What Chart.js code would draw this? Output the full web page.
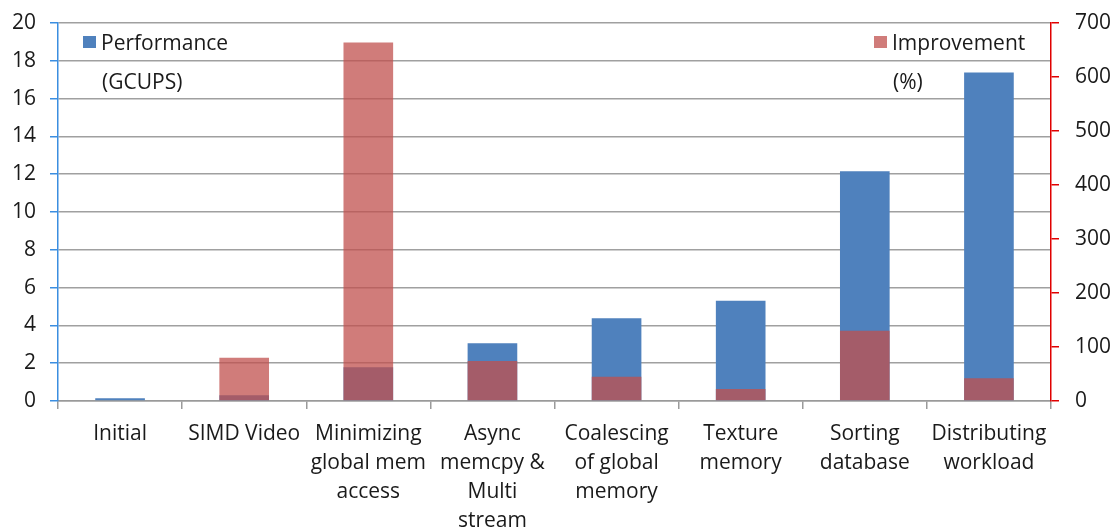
<!DOCTYPE html>
<html>
<head>
<meta charset="utf-8">
<script src="https://cdn.jsdelivr.net/npm/chart.js@4.4.0/dist/chart.umd.min.js"></script>
<style>
html,body{margin:0;padding:0;background:#fff;}
#wrap{width:1113px;height:529px;position:relative;}
</style>
</head>
<body>
<div id="wrap"><canvas id="c" width="1113" height="529"></canvas></div>
<script>
const categories = [
  "Initial",
  "SIMD Video",
  ["Minimizing", "global mem", "access"],
  ["Async", "memcpy &", "Multi", "stream"],
  ["Coalescing", "of global", "memory"],
  ["Texture", "memory"],
  ["Sorting", "database"],
  ["Distributing", "workload"]
];
const performance = [0.14, 0.3, 1.79, 3.05, 4.38, 5.3, 12.16, 17.38];
const improvement = [0, 80, 664, 74, 45, 22, 130, 42];
const leftTicks = [0, 2, 4, 6, 8, 10, 12, 14, 16, 18, 20];
const rightTicks = [0, 100, 200, 300, 400, 500, 600, 700];
const legendMain = ["Performance", "Improvement"];
const legendSub = ["(GCUPS)", "(%)"];

const FONT = "'Open Sans', 'Noto Sans', sans-serif";
const TEXT = "#1a1a1a";
const BLUE = "#4F81BD";
const RED = "rgba(192,80,77,0.75)";

const legendPlugin = {
  id: 'innerLegend',
  afterDraw(chart) {
    const ctx = chart.ctx;
    const a = chart.chartArea;
    ctx.save();
    ctx.font = "21px " + FONT;
    ctx.textBaseline = 'middle';
    ctx.textAlign = 'left';
    const items = [
      {x: a.left + 25, color: BLUE},
      {x: a.right - 177, color: RED}
    ];
    items.forEach((it, i) => {
      ctx.fillStyle = it.color;
      ctx.fillRect(it.x, a.top + 13, 13, 12);
      ctx.fillStyle = TEXT;
      ctx.fillText(legendMain[i], it.x + 18, a.top + 21);
      ctx.fillText(legendSub[i], it.x + 19, a.top + 60);
    });
    ctx.restore();
  }
};

new Chart(document.getElementById('c'), {
  type: 'bar',
  data: {
    labels: categories,
    datasets: [
      {label: legendMain[0], data: performance, yAxisID: 'y', backgroundColor: BLUE, order: 1,
       grouped: false, categoryPercentage: 1, barPercentage: 0.4},
      {label: legendMain[1], data: improvement, yAxisID: 'y1', backgroundColor: RED, order: 0,
       grouped: false, categoryPercentage: 1, barPercentage: 0.4}
    ]
  },
  options: {
    responsive: false,
    animation: false,
    devicePixelRatio: 1,
    layout: {padding: {top: 23, left: 0, right: 0, bottom: 0}},
    plugins: {legend: {display: false}, tooltip: {enabled: false}},
    scales: {
      x: {
        offset: true,
        grid: {drawOnChartArea: false, drawTicks: true, tickLength: 8, color: '#9a9a9a', lineWidth: 1.5},
        border: {display: true, color: '#9a9a9a', width: 1.5},
        ticks: {color: TEXT, font: {family: FONT, size: 21, lineHeight: 1.38}, padding: 11, maxRotation: 0, autoSkip: false},
        afterFit(s) { s.height = 128; s.paddingLeft = 0; s.paddingRight = 0; }
      },
      y: {
        position: 'left',
        min: 0, max: 20,
        afterBuildTicks(s) { s.ticks = leftTicks.map(v => ({value: v})); },
        grid: {color: '#a0a0a0', lineWidth: 1.5, tickColor: '#3b8ee0', tickLength: 8},
        border: {display: true, color: '#3b8ee0', width: 1.5},
        ticks: {color: TEXT, font: {family: FONT, size: 21}, padding: 14},
        afterFit(s) { s.width = 58; s.paddingTop = 0; s.paddingBottom = 0; }
      },
      y1: {
        position: 'right',
        min: 0, max: 700,
        afterBuildTicks(s) { s.ticks = rightTicks.map(v => ({value: v})); },
        grid: {drawOnChartArea: false, color: '#e00000', tickColor: '#e00000', tickLength: 8, lineWidth: 1.5},
        border: {display: true, color: '#e00000', width: 1.5},
        ticks: {color: TEXT, font: {family: FONT, size: 21}, padding: 16},
        afterFit(s) { s.width = 62; s.paddingTop = 0; s.paddingBottom = 0; }
      }
    }
  },
  plugins: [legendPlugin]
});
</script>
</body>
</html>
